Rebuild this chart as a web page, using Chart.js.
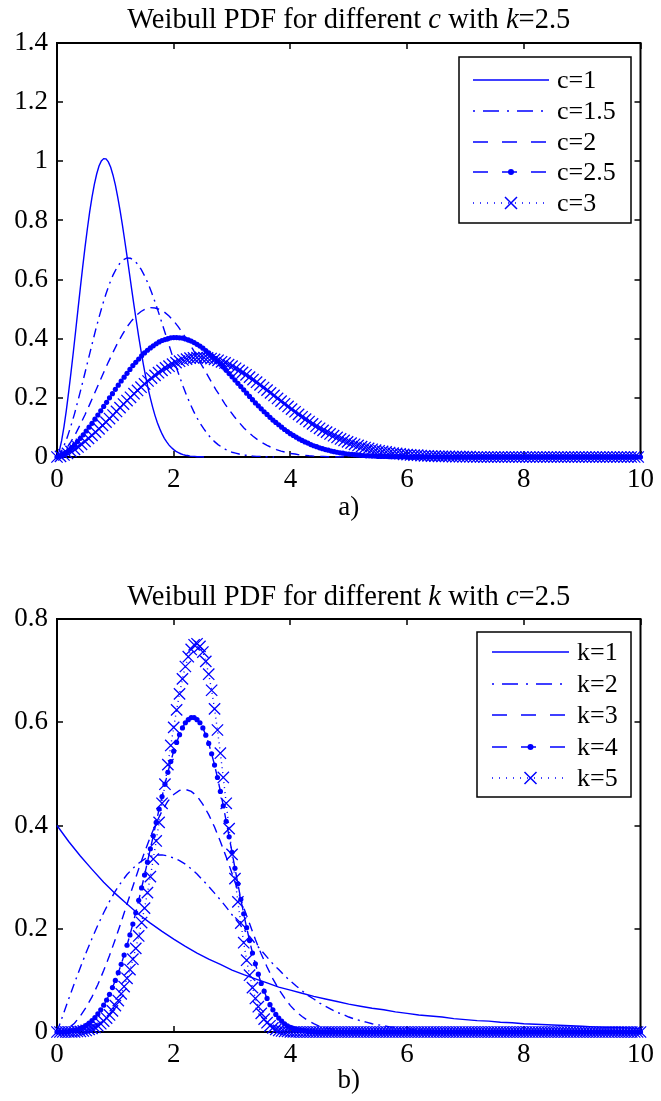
<!DOCTYPE html>
<html>
<head>
<meta charset="utf-8">
<script src="https://cdn.jsdelivr.net/npm/chart.js@4.4.1/dist/chart.umd.min.js"></script>
<style>
  body { margin: 0; background: #fff; }
  .box { position: absolute; left: 0; width: 661px; }
  #boxA { top: 0; height: 550px; }
  #boxB { top: 550px; height: 551px; }
</style>
</head>
<body>
<div class="box" id="boxA"><canvas id="chartA"></canvas></div>
<div class="box" id="boxB"><canvas id="chartB"></canvas></div>
<script>
// axis ticks
const xTicks = [0, 2, 4, 6, 8, 10];
const yTicksA = [0, 0.2, 0.4, 0.6, 0.8, 1, 1.2, 1.4];
const yTicksB = [0, 0.2, 0.4, 0.6, 0.8];

// a) Weibull PDF, k = 2.5, different c
const labelsA = ['c=1', 'c=1.5', 'c=2', 'c=2.5', 'c=3'];
const stepA = [0.04, 0.06, 0.08, 0.05, 0.06]; // x spacing of the samples in each series

const pdfC1 = [
  0,0.020,0.056,0.103,0.158,0.220,0.286,0.355,0.427,0.500,
  0.572,0.642,0.709,0.771,0.829,0.879,0.922,0.957,0.984,1.001,
  1.009,1.008,0.998,0.980,0.953,0.920,0.880,0.835,0.786,0.733,
  0.679,0.623,0.567,0.512,0.459,0.407,0.359,0.313,0.271,0.233,
  0.199,0.168,0.140,0.116,0.096,0.078,0.063,0.051,0.040,0.032,
  0.025,0.019,0.015,0.011,0.008,0.006,0.005,0.003,0.002,0.002,
  0.001,0.001,0.001,0
];
const pdfC15 = [
  0,0.013,0.038,0.069,0.106,0.146,0.191,0.237,0.285,0.333,
  0.381,0.428,0.472,0.514,0.552,0.586,0.615,0.638,0.656,0.667,
  0.673,0.672,0.665,0.653,0.635,0.613,0.587,0.557,0.524,0.489,
  0.452,0.415,0.378,0.341,0.306,0.272,0.239,0.209,0.181,0.155,
  0.132,0.112,0.094,0.078,0.064,0.052,0.042,0.034,0.027,0.021,
  0.016,0.013,0.010,0.007,0.006,0.004,0.003,0.002,0.002,0.001,
  0.001,0.001,0
];
const pdfC2 = [
  0,0.010,0.028,0.052,0.079,0.110,0.143,0.178,0.214,0.250,
  0.286,0.321,0.354,0.386,0.414,0.440,0.461,0.479,0.492,0.501,
  0.505,0.504,0.499,0.490,0.477,0.460,0.440,0.417,0.393,0.367,
  0.339,0.311,0.284,0.256,0.229,0.204,0.179,0.157,0.136,0.117,
  0.099,0.084,0.070,0.058,0.048,0.039,0.032,0.025,0.020,0.016,
  0.012,0.010,0.007,0.006,0.004,0.003,0.002,0.002,0.001,0.001,
  0.001,0.001,0
];
const pdfC25 = [
  0,0.003,0.008,0.015,0.023,0.032,0.041,0.052,0.063,0.075,
  0.088,0.101,0.114,0.128,0.142,0.156,0.171,0.185,0.200,0.214,
  0.229,0.243,0.257,0.270,0.283,0.296,0.309,0.320,0.331,0.342,
  0.352,0.361,0.369,0.376,0.383,0.389,0.394,0.397,0.400,0.403,
  0.404,0.404,0.403,0.402,0.399,0.396,0.392,0.387,0.381,0.375,
  0.368,0.360,0.352,0.343,0.334,0.324,0.314,0.304,0.293,0.282,
  0.271,0.260,0.249,0.238,0.227,0.216,0.205,0.194,0.183,0.173,
  0.163,0.153,0.144,0.134,0.125,0.117,0.109,0.101,0.093,0.086,
  0.079,0.073,0.067,0.061,0.056,0.051,0.047,0.042,0.038,0.035,
  0.031,0.028,0.025,0.023,0.020,0.018,0.016,0.014,0.013,0.011,
  0.010,0.009,0.008,0.007,0.006,0.005,0.004,0.004,0.003,0.003,
  0.002,0.002,0.002,0.002,0.001,0.001,0.001,0.001,0.001,0.001,
  0,0,0,0,0,0,0,0,0,0,
  0,0,0,0,0,0,0,0,0,0,
  0,0,0,0,0,0,0,0,0,0,
  0,0,0,0,0,0,0,0,0,0,
  0,0,0,0,0,0,0,0,0,0,
  0,0,0,0,0,0,0,0,0,0,
  0,0,0,0,0,0,0,0,0,0,
  0,0,0,0,0,0,0,0,0,0,
  0
];
const pdfC3 = [
  0,0.002,0.007,0.012,0.019,0.026,0.034,0.043,0.053,0.063,
  0.073,0.084,0.095,0.107,0.118,0.130,0.142,0.154,0.167,0.179,
  0.191,0.202,0.214,0.225,0.236,0.247,0.257,0.267,0.276,0.285,
  0.293,0.301,0.307,0.314,0.319,0.324,0.328,0.331,0.334,0.335,
  0.336,0.337,0.336,0.335,0.333,0.330,0.327,0.322,0.318,0.312,
  0.307,0.300,0.293,0.286,0.278,0.270,0.262,0.253,0.244,0.235,
  0.226,0.217,0.208,0.198,0.189,0.180,0.171,0.162,0.153,0.144,
  0.136,0.128,0.120,0.112,0.104,0.097,0.090,0.084,0.078,0.072,
  0.066,0.061,0.056,0.051,0.047,0.043,0.039,0.035,0.032,0.029,
  0.026,0.023,0.021,0.019,0.017,0.015,0.013,0.012,0.011,0.009,
  0.008,0.007,0.006,0.006,0.005,0.004,0.004,0.003,0.003,0.002,
  0.002,0.002,0.002,0.001,0.001,0.001,0.001,0.001,0.001,
  0,0,0,0,0,0,0,0,0,0,
  0,0,0,0,0,0,0,0,0,0,
  0,0,0,0,0,0,0,0,0,0,
  0,0,0,0,0,0,0,0,0,0,
  0,0,0,0,0,0,0,0
];

// b) Weibull PDF, c = 2.5, different k
const labelsB = ['k=1', 'k=2', 'k=3', 'k=4', 'k=5'];
const stepB = [0.2, 0.1, 0.1, 0.05, 0.05];

const pdfK1 = [
  0.400,0.369,0.341,0.315,0.290,0.268,0.248,0.228,0.211,0.195,
  0.180,0.166,0.153,0.141,0.131,0.120,0.111,0.103,0.095,0.087,
  0.081,0.075,0.069,0.064,0.059,0.054,0.050,0.046,0.043,0.039,
  0.036,0.033,0.031,0.029,0.026,0.024,0.022,0.021,0.019,0.018,
  0.016,0.015,0.014,0.013,0.012,0.011,0.010,0.009,0.009,0.008,
  0.007
];
const pdfK2 = [
  0,0.032,0.064,0.095,0.125,0.154,0.181,0.207,0.231,0.253,
  0.273,0.290,0.305,0.317,0.327,0.335,0.340,0.343,0.343,0.341,
  0.337,0.332,0.325,0.316,0.306,0.294,0.282,0.269,0.256,0.242,
  0.227,0.213,0.199,0.185,0.171,0.158,0.145,0.132,0.121,0.109,
  0.099,0.089,0.080,0.071,0.064,0.056,0.050,0.044,0.038,0.034,
  0.029,0.025,0.022,0.019,0.016,0.014,0.012,0.010,0.009,0.007,
  0.006,0.005,0.004,0.004,0.003,0.002,0.002,0.002,0.001,0.001,
  0.001,0
];
const pdfK3 = [
  0,0.002,0.008,0.017,0.031,0.048,0.068,0.092,0.119,0.148,
  0.180,0.213,0.248,0.282,0.316,0.348,0.378,0.405,0.428,0.447,
  0.460,0.468,0.470,0.466,0.457,0.441,0.421,0.397,0.369,0.339,
  0.307,0.274,0.241,0.210,0.179,0.151,0.126,0.103,0.083,0.066,
  0.051,0.039,0.030,0.022,0.016,0.011,0.008,0.006,0.004,0.002,
  0.002,0.001,0.001,0
];
const pdfK4 = [
  0,0,0,0,0.001,0.002,0.003,0.004,0.007,0.009,
  0.013,0.017,0.022,0.028,0.035,0.043,0.052,0.062,0.073,0.086,
  0.100,0.115,0.131,0.149,0.168,0.188,0.209,0.231,0.255,0.279,
  0.304,0.329,0.355,0.380,0.406,0.432,0.456,0.480,0.503,0.524,
  0.544,0.561,0.576,0.589,0.599,0.605,0.609,0.609,0.605,0.599,
  0.589,0.575,0.559,0.539,0.517,0.493,0.466,0.438,0.408,0.378,
  0.348,0.317,0.287,0.257,0.229,0.202,0.177,0.153,0.132,0.112,
  0.094,0.079,0.065,0.053,0.043,0.034,0.027,0.021,0.016,0.012,
  0.009,0.007,0.005,0.004,0.003,0.002,0.001,0.001,0.001,0,
  0,0,0,0,0,0,0,0,0,0,
  0,0,0,0,0,0,0,0,0,0,
  0,0,0,0,0,0,0,0,0,0,
  0,0,0,0,0,0,0,0,0,0,
  0,0,0,0,0,0,0,0,0,0,
  0,0,0,0,0,0,0,0,0,0,
  0,0,0,0,0,0,0,0,0,0,
  0,0,0,0,0,0,0,0,0,0,
  0,0,0,0,0,0,0,0,0,0,
  0,0,0,0,0,0,0,0,0,0,
  0,0,0,0,0,0,0,0,0,0,
  0
];
const pdfK5 = [
  0,0,0,0,0,0,0,0.001,0.001,0.002,
  0.003,0.005,0.007,0.009,0.012,0.016,0.021,0.027,0.033,0.041,
  0.051,0.061,0.074,0.088,0.104,0.121,0.141,0.162,0.186,0.212,
  0.240,0.270,0.301,0.335,0.370,0.406,0.443,0.480,0.518,0.555,
  0.590,0.624,0.655,0.684,0.708,0.727,0.741,0.750,0.752,0.747,
  0.736,0.718,0.693,0.662,0.626,0.585,0.540,0.493,0.443,0.394,
  0.344,0.297,0.252,0.211,0.173,0.139,0.110,0.086,0.065,0.049,
  0.036,0.025,0.018,0.012,0.008,0.005,0.003,0.002,0.001,0.001,
  0,0,0,0,0,0,0,0,0,0,
  0,0,0,0,0,0,0,0,0,0,
  0,0,0,0,0,0,0,0,0,0,
  0,0,0,0,0,0,0,0,0,0,
  0,0,0,0,0,0,0,0,0,0,
  0,0,0,0,0,0,0,0,0,0,
  0,0,0,0,0,0,0,0,0,0,
  0,0,0,0,0,0,0,0,0,0,
  0,0,0,0,0,0,0,0,0,0,
  0,0,0,0,0,0,0,0,0,0,
  0,0,0,0,0,0,0,0,0,0,
  0,0,0,0,0,0,0,0,0,0,
  0
];

const BLUE = '#0000ff';
const SERIF = "'Liberation Serif', 'DejaVu Serif', serif";

// matlab-ish styles: '-', '-.', '--', '--.', ':x'
const lineStyles = [
  { dash: [], legendDash: [], marker: null },
  { dash: [9, 5, 2, 5], legendDash: [2, 8, 16, 8], marker: null },
  { dash: [9, 6], legendDash: [15, 14], marker: null },
  { dash: [9, 6], legendDash: [15, 14], marker: 'circle' },
  { dash: [1, 4], legendDash: [1, 6], marker: 'crossRot' }
];

function toPoints(vals, step) {
  return vals.map((v, i) => ({ x: Math.round(i * step * 1000) / 1000, y: v }));
}

function makeDataset(label, vals, step, i) {
  const st = lineStyles[i];
  return {
    label: label,
    data: toPoints(vals, step),
    borderColor: BLUE,
    backgroundColor: BLUE,
    borderWidth: 1.4,
    borderDash: st.dash,
    pointStyle: st.marker || 'circle',
    pointRadius: st.marker === 'circle' ? 2.6 : (st.marker === 'crossRot' ? 8 : 0),
    pointBorderWidth: st.marker === 'crossRot' ? 1.3 : 0,
    pointBackgroundColor: BLUE,
    pointBorderColor: BLUE,
    legendDash: st.legendDash,
    marker: st.marker,
    tension: 0,
    clip: false,
    order: 5 - i
  };
}

// box + inward ticks, drawn under the curves like matlab does
const framePlugin = {
  id: 'frame',
  beforeDatasetsDraw(chart) {
    const { ctx, chartArea: a, scales } = chart;
    ctx.save();
    ctx.strokeStyle = '#000';
    ctx.lineWidth = 1.5;
    ctx.beginPath();
    scales.x.ticks.forEach(t => {
      const px = Math.round(scales.x.getPixelForValue(t.value));
      ctx.moveTo(px, a.bottom); ctx.lineTo(px, a.bottom - 6);
      ctx.moveTo(px, a.top); ctx.lineTo(px, a.top + 6);
    });
    scales.y.ticks.forEach(t => {
      const py = Math.round(scales.y.getPixelForValue(t.value));
      ctx.moveTo(a.left, py); ctx.lineTo(a.left + 6, py);
      ctx.moveTo(a.right, py); ctx.lineTo(a.right - 6, py);
    });
    ctx.stroke();
    ctx.lineWidth = 2;
    ctx.strokeRect(a.left, a.top, a.right - a.left, a.bottom - a.top);
    ctx.restore();
  }
};

// title with italic symbols
function titlePlugin(parts, y) {
  return {
    id: 'mathTitle',
    afterDraw(chart) {
      const { ctx, chartArea } = chart;
      ctx.save();
      ctx.fillStyle = '#000';
      ctx.textBaseline = 'middle';
      ctx.textAlign = 'left';
      const widths = parts.map(p => {
        ctx.font = (p.it ? 'italic ' : '') + '28.5px ' + SERIF;
        return ctx.measureText(p.t).width;
      });
      const total = widths.reduce((s, w) => s + w, 0);
      let x = (chartArea.left + chartArea.right) / 2 - total / 2;
      parts.forEach((p, i) => {
        ctx.font = (p.it ? 'italic ' : '') + '28.5px ' + SERIF;
        ctx.fillText(p.t, x, y);
        x += widths[i];
      });
      ctx.restore();
    }
  };
}

// boxed legend with line samples
function legendPlugin(L) {
  return {
    id: 'boxLegend',
    afterDraw(chart) {
      const ctx = chart.ctx;
      ctx.save();
      ctx.fillStyle = '#fff';
      ctx.fillRect(L.left, L.top, L.right - L.left, L.bottom - L.top);
      ctx.strokeStyle = '#000';
      ctx.lineWidth = 1.5;
      ctx.strokeRect(L.left, L.top, L.right - L.left, L.bottom - L.top);
      chart.data.datasets.forEach((ds, i) => {
        const y = Math.round(L.y0 + i * L.dy);
        const mx = (L.x1 + L.x2) / 2;
        ctx.strokeStyle = BLUE;
        ctx.lineWidth = 1.4;
        ctx.setLineDash(ds.legendDash);
        ctx.beginPath();
        ctx.moveTo(L.x1, y);
        ctx.lineTo(L.x2, y);
        ctx.stroke();
        ctx.setLineDash([]);
        if (ds.marker === 'circle') {
          ctx.fillStyle = BLUE;
          ctx.beginPath();
          ctx.arc(mx, y, 3, 0, Math.PI * 2);
          ctx.fill();
        } else if (ds.marker === 'crossRot') {
          ctx.lineWidth = 1.5;
          ctx.beginPath();
          ctx.moveTo(mx - 6, y - 6); ctx.lineTo(mx + 6, y + 6);
          ctx.moveTo(mx + 6, y - 6); ctx.lineTo(mx - 6, y + 6);
          ctx.stroke();
        }
        ctx.fillStyle = '#000';
        ctx.font = '26px ' + SERIF;
        ctx.textBaseline = 'middle';
        ctx.textAlign = 'left';
        ctx.fillText(ds.label, L.tx, y + 1);
      });
      ctx.restore();
    }
  };
}

function buildChart(id, cfg) {
  const tickFont = { family: SERIF, size: 27 };
  return new Chart(document.getElementById(id), {
    type: 'line',
    data: { datasets: cfg.datasets },
    options: {
      responsive: true,
      maintainAspectRatio: false,
      animation: false,
      events: [],
      layout: { padding: { top: cfg.top, left: 0, right: 17, bottom: cfg.bottom } },
      plugins: { legend: { display: false }, title: { display: false }, tooltip: { enabled: false } },
      scales: {
        x: {
          type: 'linear', min: 0, max: 10,
          afterBuildTicks: s => { s.ticks = xTicks.map(v => ({ value: v })); },
          afterFit: s => { s.height = cfg.xHeight; },
          ticks: { color: '#000', font: tickFont, padding: 7, maxRotation: 0, autoSkip: false, callback: v => String(v) },
          grid: { display: false, drawTicks: false },
          border: { display: false },
          title: { display: true, text: cfg.xLabel, color: '#000', font: tickFont, padding: 0 }
        },
        y: {
          type: 'linear', min: 0, max: cfg.yTicks[cfg.yTicks.length - 1],
          afterBuildTicks: s => { s.ticks = cfg.yTicks.map(v => ({ value: v })); },
          afterFit: s => { s.width = 57; },
          ticks: { color: '#000', font: tickFont, padding: 9, autoSkip: false, callback: v => String(v) },
          grid: { display: false, drawTicks: false },
          border: { display: false }
        }
      }
    },
    plugins: [framePlugin, titlePlugin(cfg.title, cfg.titleY), legendPlugin(cfg.legend)]
  });
}

const seriesA = [pdfC1, pdfC15, pdfC2, pdfC25, pdfC3];
const seriesB = [pdfK1, pdfK2, pdfK3, pdfK4, pdfK5];

buildChart('chartA', {
  datasets: seriesA.map((v, i) => makeDataset(labelsA[i], v, stepA[i], i)),
  yTicks: yTicksA,
  top: 43, bottom: 26, xHeight: 67,
  xLabel: 'a)',
  titleY: 21,
  title: [{ t: 'Weibull PDF for different ' }, { t: 'c', it: true }, { t: ' with ' }, { t: 'k', it: true }, { t: '=2.5' }],
  legend: { left: 459, top: 57, right: 631, bottom: 223, x1: 473, x2: 549, tx: 557, y0: 80, dy: 30.8 }
});

buildChart('chartB', {
  datasets: seriesB.map((v, i) => makeDataset(labelsB[i], v, stepB[i], i)),
  yTicks: yTicksB,
  top: 69, bottom: 4, xHeight: 65,
  xLabel: 'b)',
  titleY: 48,
  title: [{ t: 'Weibull PDF for different ' }, { t: 'k', it: true }, { t: ' with ' }, { t: 'c', it: true }, { t: '=2.5' }],
  legend: { left: 477, top: 82, right: 631, bottom: 247, x1: 492, x2: 569, tx: 577, y0: 102, dy: 31.5 }
});
</script>
</body>
</html>
